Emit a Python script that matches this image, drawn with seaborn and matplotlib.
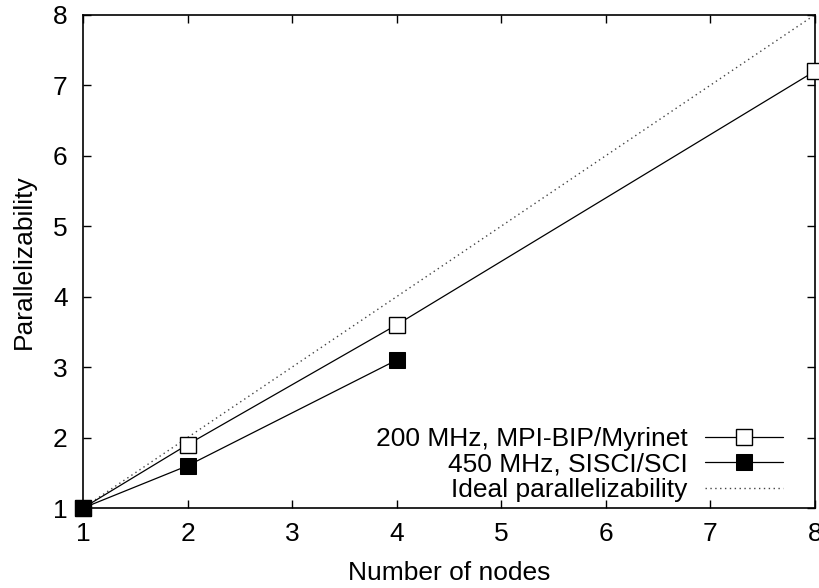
import matplotlib
matplotlib.use("Agg")
import matplotlib.pyplot as plt
import seaborn as sns

# data
nodes_myri = [1, 2, 4, 8]
par_myri = [1.0, 1.9, 3.6, 7.2]
nodes_sci = [1, 2, 4]
par_sci = [1.0, 1.6, 3.1]
nodes_ideal = [1, 8]
par_ideal = [1, 8]
ticks = [1, 2, 3, 4, 5, 6, 7, 8]

FS = 19

sns.set_style("ticks")
plt.rcParams["font.family"] = ["Liberation Sans", "DejaVu Sans"]
plt.rcParams["font.size"] = FS
plt.rcParams["text.color"] = "black"
plt.rcParams["axes.labelcolor"] = "black"

fig = plt.figure(figsize=(8.2, 5.88), dpi=100)
ax = fig.add_axes([0.1012, 0.136, 0.8927, 0.839])

sns.lineplot(x=nodes_myri, y=par_myri, ax=ax, color="black", linewidth=0.9,
             marker="s", markersize=11, markerfacecolor="white",
             markeredgecolor="black", markeredgewidth=1.0,
             label="200 MHz, MPI-BIP/Myrinet", clip_on=False, zorder=3)
sns.lineplot(x=nodes_sci, y=par_sci, ax=ax, color="black", linewidth=0.9,
             marker="s", markersize=11, markerfacecolor="black",
             markeredgecolor="black",
             label="450 MHz, SISCI/SCI", clip_on=False, zorder=4)
sns.lineplot(x=nodes_ideal, y=par_ideal, ax=ax, color="#444444", linewidth=1.0,
             linestyle=(0, (1, 2.5)), label="Ideal parallelizability", zorder=2)

ax.set_xlim(1, 8)
ax.set_ylim(1, 8)
ax.set_xticks(ticks)
ax.set_yticks(ticks)
ax.set_xlabel("Number of nodes", fontsize=FS, labelpad=11, color="black")
ax.set_ylabel("Parallelizability", fontsize=FS, labelpad=12, color="black")
ax.tick_params(direction="in", length=6, width=1, top=True, right=True,
               labelsize=FS, colors="black")
ax.tick_params(axis="x", pad=10)
ax.tick_params(axis="y", pad=11)
for s in ax.spines.values():
    s.set_visible(True)
    s.set_linewidth(1.2)
    s.set_color("black")

leg = ax.legend(loc="lower right", frameon=False, markerfirst=False,
                handlelength=2.95, handletextpad=0.65, labelspacing=0.05,
                fontsize=FS, borderaxespad=0.1, bbox_to_anchor=(0.974, -0.014))
for t in leg.get_texts():
    t.set_color("black")

fig.savefig("out.png", dpi=100)
